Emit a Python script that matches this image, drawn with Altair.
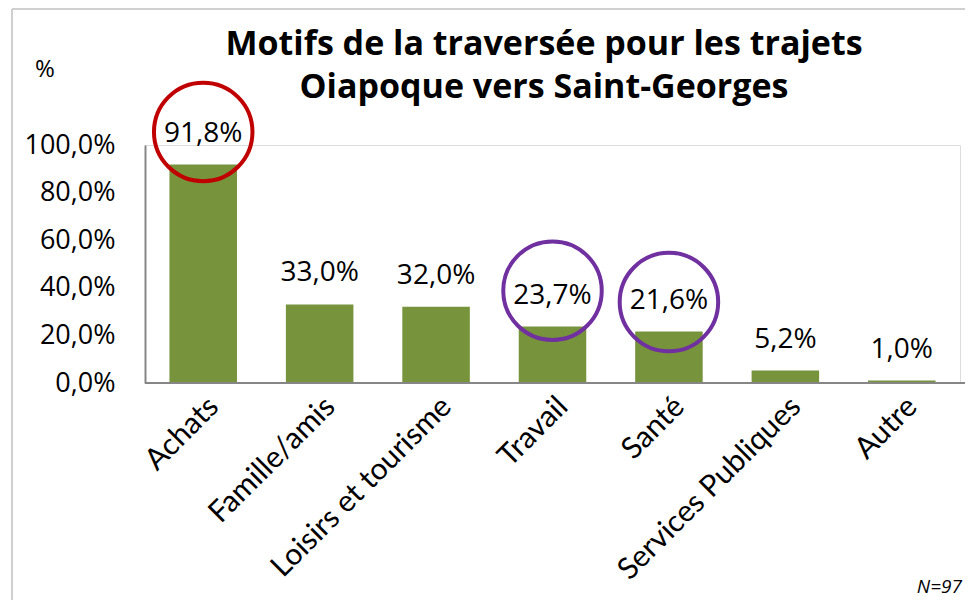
import altair as alt
import pandas as pd

categories = ["Achats", "Famille/amis", "Loisirs et tourisme", "Travail", "Santé",
              "Services Publiques", "Autre"]
values = [91.8, 33.0, 32.0, 23.7, 21.6, 5.2, 1.0]

circle_cats = ["Achats", "Travail", "Santé"]
circle_centers = [105.5, 38.8, 34.0]
circle_colors = ["#C00000", "#7030A0", "#7030A0"]

title_lines = ["Motifs de la traversée pour les trajets", "Oiapoque vers Saint-Georges"]
y_unit = "%"
note = "N=97"

df = pd.DataFrame({"cat": categories, "val": values})
dc = pd.DataFrame({"cat": circle_cats, "val": circle_centers, "col": circle_colors})

W, H = 815, 238
GREEN = "#77933C"

x = alt.X("cat:N", sort=categories, title=None,
          scale=alt.Scale(paddingInner=0.42, paddingOuter=0.21),
          axis=alt.Axis(labelAngle=-45, labelAlign="right", labelBaseline="top",
                        labelFont="Lato", labelFontSize=30, labelColor="#000000",
                        labelPadding=8, labelLimit=0, ticks=False, domain=False))
y = alt.Y("val:Q", title=None,
          scale=alt.Scale(domain=[0, 100], nice=False),
          axis=alt.Axis(values=[0, 20, 40, 60, 80, 100],
                        labelExpr="replace(format(datum.value, '.1f'), '.', ',') + '%'",
                        labelFont="Open Sans", labelFontSize=27, labelColor="#000000",
                        labelPadding=30, ticks=False, grid=False,
                        domainColor="#868686", domainWidth=2))

bars = alt.Chart(df).mark_bar(color=GREEN).encode(x=x, y=y)

labels = alt.Chart(df).mark_text(font="Open Sans", fontSize=28, color="#000000",
                                 baseline="middle", dy=-31).encode(
    x=alt.X("cat:N", sort=categories),
    y="val:Q",
    text=alt.Text("lbl:N"),
).transform_calculate(lbl="replace(format(datum.val, '.1f'), '.', ',') + '%'")

circles = alt.Chart(dc).mark_point(shape="circle", filled=False, size=9700,
                                   strokeWidth=4, opacity=1).encode(
    x=alt.X("cat:N", sort=categories),
    y=alt.Y("val:Q"),
    color=alt.Color("col:N", scale=None, legend=None),
)

xaxis = alt.Chart(df).mark_rule(color="#868686", strokeWidth=2).encode(
    x=alt.value(0), x2=alt.value(W + 14), y=alt.value(H))

frame_top = alt.Chart(df).mark_rule(color="#D0D0D0", strokeWidth=2).encode(
    x=alt.value(-133), x2=alt.value(W + 20), y=alt.value(-136))
frame_left = alt.Chart(df).mark_rule(color="#D0D0D0", strokeWidth=2).encode(
    x=alt.value(-133), y=alt.value(-136), y2=alt.value(H + 230))

title1 = alt.Chart(pd.DataFrame({"t": [title_lines[0]]})).mark_text(
    font="Open Sans", fontWeight="bold", fontSize=34, color="#000000",
    align="center", baseline="middle").encode(
    x=alt.value(399), y=alt.value(-100), text="t:N")
title2 = alt.Chart(pd.DataFrame({"t": [title_lines[1]]})).mark_text(
    font="Open Sans", fontWeight="bold", fontSize=34, color="#000000",
    align="center", baseline="middle").encode(
    x=alt.value(399), y=alt.value(-57), text="t:N")

unit = alt.Chart(pd.DataFrame({"t": [y_unit]})).mark_text(
    font="Open Sans", fontSize=24, color="#000000", align="center", baseline="middle").encode(
    x=alt.value(-100), y=alt.value(-75), text="t:N")

ntext = alt.Chart(pd.DataFrame({"t": [note]})).mark_text(
    font="Open Sans", fontStyle="italic", fontSize=19, color="#000000",
    align="right", baseline="middle").encode(
    x=alt.value(817), y=alt.value(442), text="t:N")

chart = alt.layer(frame_top, frame_left, bars, xaxis, labels, circles,
                  title1, title2, unit, ntext).properties(
    width=W, height=H,
    autosize=alt.AutoSizeParams(type="none"),
    padding={"left": 137, "top": 137, "right": 5, "bottom": 217},
).configure_view(stroke=None).configure(background="white")

chart.save("out.html", embed_options={"renderer": "svg", "actions": False})
